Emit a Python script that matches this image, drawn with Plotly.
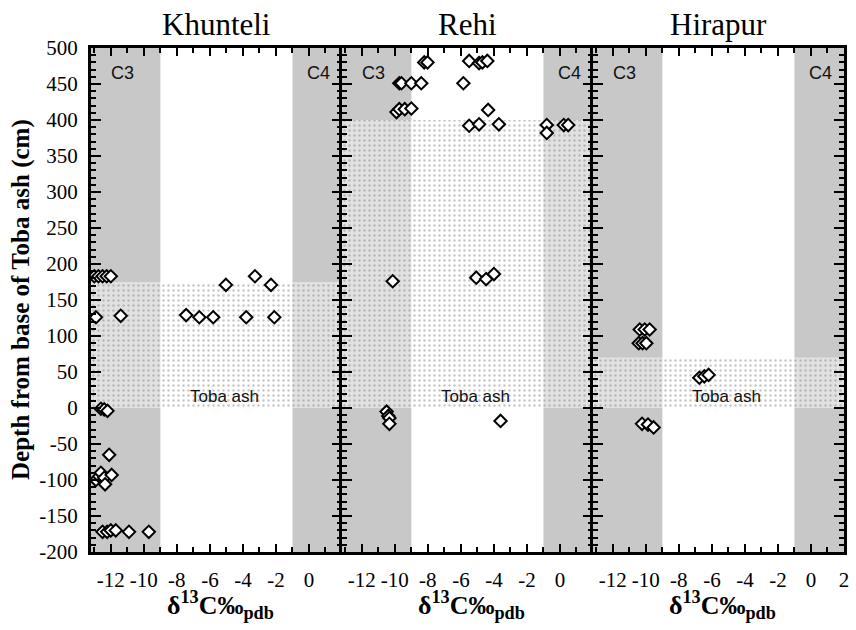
import plotly.graph_objects as go

# ---------------- data ----------------
sites = ["Khunteli", "Rehi", "Hirapur"]

khunteli_d13c = [-13.0, -12.75, -12.5, -12.25, -12.0,
                 -12.9, -11.4,
                 -7.44, -6.64, -5.8, -3.8, -2.1,
                 -5.03, -2.3, -3.27,
                 -12.6, -12.4, -12.2,
                 -12.1,
                 -12.9, -12.7, -12.6, -12.4, -12.35, -11.95,
                 -12.5, -12.22, -12.0, -11.7, -10.9, -9.7]
khunteli_depth = [183, 183, 183, 183, 183,
                  126, 128,
                  129, 126, 126, 126, 126,
                  171, 171, 183,
                  -1, -2, -4,
                  -65,
                  -100, -95, -90, -97, -106, -93,
                  -172, -172, -170, -170, -172, -172]

rehi_d13c = [-8.22, -8.02,
             -5.5, -4.9, -4.7, -4.4,
             -9.73, -9.6, -9.0, -8.4, -5.85,
             -9.9, -9.73, -9.4, -9.0, -4.35,
             -5.5, -4.9, -3.7,
             -0.8, -0.8, 0.23, 0.5,
             -10.13,
             -5.07, -4.47, -4.0,
             -10.5, -10.4, -10.33, -10.33,
             -3.6]
rehi_depth = [480, 480,
              482, 479, 480, 482,
              451, 451, 451, 451, 451,
              411, 415, 415, 416, 414,
              392, 394, 394,
              393, 382, 393, 393,
              176,
              181, 179, 186,
              -5, -11, -14, -22,
              -18]

hirapur_d13c = [-10.37, -10.07, -9.77,
                -10.43, -10.2, -9.97,
                -6.76, -6.46, -6.2,
                -10.23, -9.87, -9.53]
hirapur_depth = [109, 109, 109,
                 90, 90, 90,
                 42, 44, 46,
                 -22, -23, -27]

toba_top = [175, 400, 70]          # top of Toba ash bed (cm) per site
c3_limit = -9                       # C3 domain upper bound
c4_limit = -1                       # C4 domain lower bound
x_range = [-13.2, 2]
y_range = [-200, 500]
x_ticks_short = [-12, -10, -8, -6, -4, -2, 0]
x_ticks_full = [-12, -10, -8, -6, -4, -2, 0, 2]
y_ticks = [-200, -150, -100, -50, 0, 50, 100, 150, 200, 250, 300, 350, 400, 450, 500]

xs = [khunteli_d13c, rehi_d13c, hirapur_d13c]
ys = [khunteli_depth, rehi_depth, hirapur_depth]

SERIF = "Liberation Serif, Times New Roman, serif"
SANS = "Liberation Sans, Arial, sans-serif"
GRAY = "#c8c8c8"

fig = go.Figure()
layout = dict(
    width=856, height=630,
    margin=dict(l=91, r=7, t=48, b=78),
    paper_bgcolor="white", plot_bgcolor="white",
    showlegend=False,
    shapes=[], annotations=[],
)

for i, site in enumerate(sites):
    sfx = "" if i == 0 else str(i + 1)
    xa, ya = "x" + sfx, "y" + sfx
    # C3 / C4 grey domains
    layout["shapes"].append(dict(type="rect", xref=xa, yref=ya, x0=x_range[0], x1=c3_limit,
                                 y0=y_range[0], y1=y_range[1], fillcolor=GRAY,
                                 line=dict(width=0), layer="below"))
    layout["shapes"].append(dict(type="rect", xref=xa, yref=ya, x0=c4_limit, x1=x_range[1],
                                 y0=y_range[0], y1=y_range[1], fillcolor=GRAY,
                                 line=dict(width=0), layer="below"))
    # Toba ash dotted band
    fig.add_trace(go.Scatter(
        x=[x_range[0], x_range[1], x_range[1], x_range[0], x_range[0]],
        y=[0, 0, toba_top[i], toba_top[i], 0],
        xaxis=xa, yaxis=ya, mode="lines", line=dict(width=0),
        fill="toself", fillcolor="rgba(255,255,255,0.45)",
        fillpattern=dict(shape=".", fgcolor="#8a8a8a", bgcolor="rgba(255,255,255,0.45)",
                         size=5, solidity=0.18),
        hoverinfo="skip"))
    # data
    fig.add_trace(go.Scatter(
        x=xs[i], y=ys[i], xaxis=xa, yaxis=ya, mode="markers",
        marker=dict(symbol="diamond", size=9.5, color="white",
                    line=dict(color="black", width=2)),
        cliponaxis=True))

    d0, d1 = i / 3, (i + 1) / 3
    xt = x_ticks_full if i == 2 else x_ticks_short
    layout["xaxis" + sfx] = dict(
        domain=[d0, d1], range=x_range, anchor=ya,
        tickvals=xt, ticktext=[str(v) for v in xt], tickangle=0,
        ticks="inside", ticklen=8, tickwidth=2, tickcolor="black",
        minor=dict(dtick=1, ticks="inside", ticklen=5, tickwidth=2, tickcolor="black"),
        showline=True, linewidth=3, linecolor="black", mirror="ticks",
        showgrid=False, zeroline=False,
        tickfont=dict(family=SERIF, size=21, color="black"),
        ticklabelstandoff=7,
    )
    layout["yaxis" + sfx] = dict(
        domain=[0, 1], range=y_range, anchor=xa,
        tickvals=y_ticks, ticktext=[str(v) for v in y_ticks], showticklabels=(i == 0),
        ticks="inside", ticklen=10, tickwidth=2, tickcolor="black",
        minor=dict(dtick=10, ticks="inside", ticklen=5, tickwidth=2, tickcolor="black"),
        showline=True, linewidth=3, linecolor="black", mirror="ticks",
        showgrid=False, zeroline=False,
        tickfont=dict(family=SERIF, size=21, color="black"),
        ticklabelstandoff=6,
    )
    # panel title
    layout["annotations"].append(dict(text=site, xref="paper", yref="paper",
                                      x=(d0 + d1) / 2, y=1.046, showarrow=False,
                                      xanchor="center", yanchor="middle",
                                      font=dict(family=SERIF, size=31, color="black")))
    # x-axis title
    layout["annotations"].append(dict(text="<b>δ<sup>13</sup>C‰<sub>pdb</sub></b>",
                                      xref="paper", yref="paper",
                                      x=(d0 + d1) / 2 + 0.005, y=-0.105, showarrow=False,
                                      xanchor="center", yanchor="middle",
                                      font=dict(family=SERIF, size=26, color="black")))
    # C3 / C4 / Toba ash labels
    for txt, xv, yv in [("C3", -11.3, 465), ("C4", 0.55, 465), ("Toba ash", -5.1, 16)]:
        layout["annotations"].append(dict(text=txt, xref=xa, yref=ya, x=xv, y=yv,
                                          showarrow=False, xanchor="center", yanchor="middle",
                                          font=dict(family=SANS, size=18 if txt != "Toba ash" else 17,
                                                    color="#111")))

# y-axis title
layout["annotations"].append(dict(text="<b>Depth from base of Toba ash (cm)</b>",
                                  xref="paper", yref="paper", x=-0.093, y=0.502,
                                  textangle=-90, showarrow=False,
                                  xanchor="center", yanchor="middle",
                                  font=dict(family=SERIF, size=25, color="black")))

fig.update_layout(**layout)
fig.write_html("out.html")
